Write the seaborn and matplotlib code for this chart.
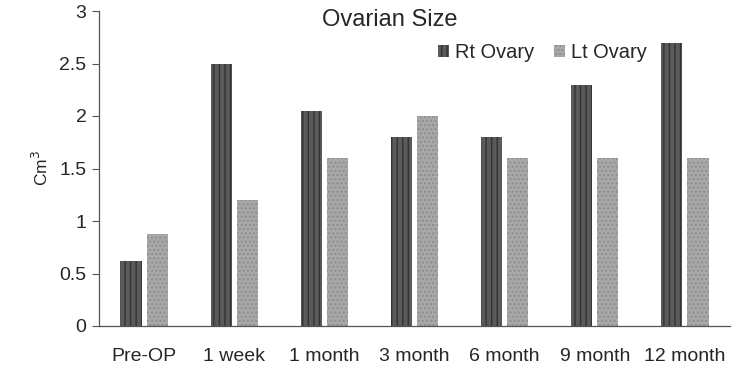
import matplotlib
matplotlib.use("Agg")
import matplotlib.pyplot as plt
import seaborn as sns
import pandas as pd
from matplotlib.patches import Patch

categories = ["Pre-OP", "1 week", "1 month", "3 month", "6 month", "9 month", "12 month"]
rt_ovary = [0.62, 2.5, 2.05, 1.8, 1.8, 2.3, 2.7]
lt_ovary = [0.88, 1.2, 1.6, 2.0, 1.6, 1.6, 1.6]
series = ["Rt Ovary", "Lt Ovary"]
y_ticks = [0, 0.5, 1, 1.5, 2, 2.5, 3]
y_ticklabels = ["0", "0.5", "1", "1.5", "2", "2.5", "3"]

sns.set_style("white")
plt.rcParams["font.family"] = ["Liberation Sans", "DejaVu Sans"]
plt.rcParams["hatch.linewidth"] = 1.0

df = pd.DataFrame({
    "cat": categories * 2,
    "val": rt_ovary + lt_ovary,
    "series": [series[0]] * len(categories) + [series[1]] * len(categories),
})

fig = plt.figure(figsize=(7.53, 3.69), dpi=100)
ax = fig.add_axes([99 / 753, 1 - 326 / 369, (730 - 99) / 753, (326 - 11) / 369])

colors = {"Rt Ovary": "#555555", "Lt Ovary": "#a6a6a6"}
sns.barplot(data=df, x="cat", y="val", hue="series", order=categories,
            hue_order=series, palette=colors, width=0.578, gap=0.19,
            ax=ax, legend=False, saturation=1)

styles = {
    "Rt Ovary": dict(fc="#5a5a5a", hc="#333333", hatch="|||"),
    "Lt Ovary": dict(fc="#a8a8a8", hc="#8e8e8e", hatch="...."),
}
n = len(categories)
for i, p in enumerate(ax.patches[:2 * n]):
    s = styles[series[i // n]]
    p.set_facecolor(s["fc"])
    p.set_edgecolor(s["hc"])
    p.set_hatch(s["hatch"])
    p.set_linewidth(0)

ax.set_ylim(0, 3)
ax.set_xlim(-0.5, n - 0.5)
ax.set_yticks(y_ticks)
ax.set_yticklabels(y_ticklabels)
ax.set_xlabel("")
ax.set_ylabel("Cm$^3$", fontsize=12.5, labelpad=6)
ax.tick_params(axis="y", which="both", left=True, length=5, width=0.8,
               color="#555555", labelsize=14, pad=4, direction="out")
ax.tick_params(axis="x", bottom=False, labelsize=14, pad=12)
for side in ["top", "right"]:
    ax.spines[side].set_visible(False)
for side in ["left", "bottom"]:
    ax.spines[side].set_color("#555555")
    ax.spines[side].set_linewidth(0.9)

fig.text(390 / 753, 1 - 20 / 369, "Ovarian Size", ha="center", va="center", fontsize=17)

handles = [Patch(facecolor=styles[s]["fc"], edgecolor=styles[s]["hc"],
                 hatch=styles[s]["hatch"], linewidth=0, label=s) for s in series]
ax.legend(handles=handles, loc="center", bbox_to_anchor=(542 / 753, 1 - 53 / 369),
          bbox_transform=fig.transFigure, ncol=2, frameon=False, fontsize=14.4,
          handlelength=0.55, handleheight=0.55, handletextpad=0.3, columnspacing=1.0)

fig.savefig("out.png", dpi=100)
